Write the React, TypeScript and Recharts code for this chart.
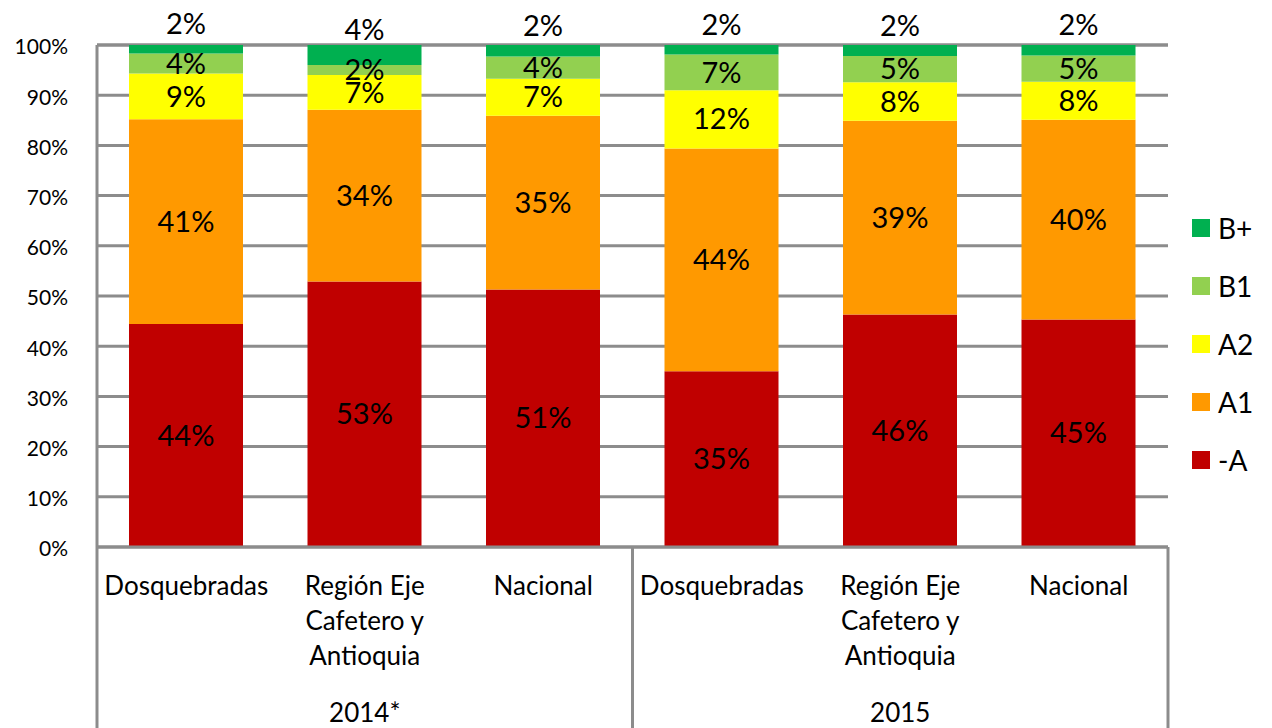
import { BarChart, Bar, XAxis, YAxis, CartesianGrid, Legend, LabelList } from "recharts";

const categories = [
  "Dosquebradas",
  "Región Eje\nCafetero y\nAntioquia",
  "Nacional",
  "Dosquebradas",
  "Región Eje\nCafetero y\nAntioquia",
  "Nacional",
];
const groups = ["2014*", "2015"];

const minusA = [44.4, 52.9, 51.3, 35.0, 46.3, 45.3];
const a1 = [40.8, 34.2, 34.6, 44.4, 38.6, 39.8];
const a2 = [9.1, 6.9, 7.4, 11.6, 7.7, 7.6];
const b1 = [4.0, 2.0, 4.4, 7.1, 5.2, 5.2];
const bPlus = [1.7, 4.0, 2.3, 1.9, 2.2, 2.1];

const yTicks = [0, 10, 20, 30, 40, 50, 60, 70, 80, 90, 100];

const series = [
  { key: "minusA", name: "-A", color: "#C00000" },
  { key: "a1", name: "A1", color: "#FF9900" },
  { key: "a2", name: "A2", color: "#FFFF00" },
  { key: "b1", name: "B1", color: "#92D050" },
  { key: "bPlus", name: "B+", color: "#00B050" },
];

const data = categories.map((name, i) => ({
  name,
  minusA: minusA[i],
  a1: a1[i],
  a2: a2[i],
  b1: b1[i],
  bPlus: bPlus[i],
}));

const FONT = "Lato, 'Open Sans', sans-serif";
const GRID = "#8c8c8c";
const LEFT = 97;
const RIGHT = 1168;
const BOTTOM = 547;
const BAND = (RIGHT - LEFT) / categories.length;

const YTick = ({ y, payload }: any) => (
  <text x={68} y={y + 2} dy="0.35em" textAnchor="end" fontSize={21} fontFamily={FONT} fill="#000">
    {payload.value}%
  </text>
);

const XTick = ({ x, index, payload }: any) => {
  const lines = String(payload.value).split("\n");
  const borders: number[] = [];
  if (index === 0 || index === 3) borders.push(x - BAND / 2);
  if (index === 5) borders.push(x + BAND / 2);
  return (
    <g>
      {borders.map((bx, k) => (
        <line key={k} x1={bx} x2={bx} y1={BOTTOM} y2={728} stroke={GRID} strokeWidth={3} />
      ))}
      {lines.map((l, k) => (
        <text key={k} x={x} y={586 + k * 35} dy="0.35em" textAnchor="middle" fontSize={26} fontFamily={FONT} fill="#000">
          {l}
        </text>
      ))}
      {(index === 1 || index === 4) && (
        <text x={x} y={713} dy="0.35em" textAnchor="middle" fontSize={26} fontFamily={FONT} fill="#000">
          {groups[index === 1 ? 0 : 1]}
        </text>
      )}
    </g>
  );
};

const makeLabel = (shift: number) => (props: any) => {
  const { x, y, width, height, value } = props;
  return (
    <text
      x={x + width / 2}
      y={y + height / 2 + shift}
      dy="0.35em"
      textAnchor="middle"
      fontSize={29}
      fontFamily={FONT}
      fill="#000"
    >
      {Math.round(value)}%
    </text>
  );
};

const LegendContent = () => (
  <div style={{ fontFamily: FONT, fontSize: 28, position: "absolute", left: 0, top: 0, width: 80 }}>
    {[...series].reverse().map((s) => (
      <div key={s.key} style={{ display: "flex", alignItems: "center", height: 58 }}>
        <span style={{ width: 18, height: 18, background: s.color, display: "inline-block", marginRight: 8 }} />
        <span style={{ color: "#000" }}>{s.name}</span>
      </div>
    ))}
  </div>
);

export default function App() {
  return (
    <div style={{ position: "absolute", left: 0, top: 0, background: "#fff" }}>
      <BarChart width={1272} height={728} data={data} margin={{ top: 45, right: 104, bottom: 0, left: 0 }}>
        <CartesianGrid vertical={false} stroke={GRID} strokeWidth={3} />
        <XAxis
          dataKey="name"
          height={181}
          interval={0}
          tickLine={false}
          axisLine={{ stroke: GRID, strokeWidth: 3 }}
          tick={<XTick />}
        />
        <YAxis
          width={97}
          domain={[0, 100]}
          ticks={yTicks}
          tickLine={false}
          axisLine={{ stroke: GRID, strokeWidth: 3 }}
          tick={<YTick />}
        />
        <Legend
          content={<LegendContent />}
          wrapperStyle={{
            position: "absolute",
            left: 1192,
            top: 199,
            width: 0,
            height: 0,
            overflow: "visible",
            bottom: "auto",
            right: "auto",
          }}
        />
        {series.map((s) => (
          <Bar key={s.key} dataKey={s.key} name={s.name} stackId="a" fill={s.color} barSize={114} isAnimationActive={false}>
            <LabelList dataKey={s.key} content={makeLabel(s.key === "bPlus" ? -25 : 0)} />
          </Bar>
        ))}
      </BarChart>
    </div>
  );
}
